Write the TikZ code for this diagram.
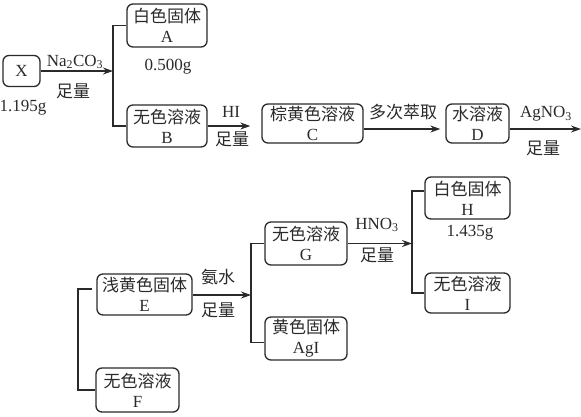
\documentclass[tikz,border=0pt]{standalone}
\usepackage{fontspec}
\setmainfont{Liberation Serif}
\newfontfamily\cjk{Noto Sans CJK SC}
\usetikzlibrary{arrows.meta}
\definecolor{ink}{HTML}{2A2A2A}
\tikzset{
  box/.style={draw=ink, line width=1.3pt, rounded corners=6pt, align=center, inner sep=0pt,
    font=\fontsize{17}{20}\selectfont, text=ink},
  lbl/.style={font=\fontsize{17}{20}\selectfont, text=ink, inner sep=0pt},
  conn/.style={draw=ink, line width=1.3pt},
  arr/.style={conn, -{Stealth[length=10pt,width=7pt]}}
}
\begin{document}
\begin{tikzpicture}[x=1pt,y=-1pt]
\useasboundingbox (0,0) rectangle (581,416);
% boxes
\node[box, minimum width=37, minimum height=31] (X) at (21.5,71) {X};
\node[box, minimum width=80, minimum height=43] (A) at (167,25.5) {{\cjk 白色固体}\\A};
\node[box, minimum width=80, minimum height=42] (B) at (167,126) {{\cjk 无色溶液}\\B};
\node[box, minimum width=101, minimum height=39] (C) at (312.5,123.5) {{\cjk 棕黄色溶液}\\C};
\node[box, minimum width=63, minimum height=39] (D) at (477.5,123.5) {{\cjk 水溶液}\\D};
\node[box, minimum width=95, minimum height=41] (E) at (144.5,294.5) {{\cjk 浅黄色固体}\\E};
\node[box, minimum width=83, minimum height=44] (F) at (137.5,390) {{\cjk 无色溶液}\\F};
\node[box, minimum width=82, minimum height=43] (G) at (306,243.5) {{\cjk 无色溶液}\\G};
\node[box, minimum width=82, minimum height=43] (AgI) at (306,338.5) {{\cjk 黄色固体}\\AgI};
\node[box, minimum width=85, minimum height=42] (H) at (467.5,198) {{\cjk 白色固体}\\H};
\node[box, minimum width=85, minimum height=40] (I) at (467.5,293) {{\cjk 无色溶液}\\I};
% junction coordinates
\coordinate (j1) at (113,71);
\coordinate (j3) at (251,295);
\coordinate (j4) at (412,243.5);
\coordinate (j5) at (78,340);
\coordinate (dend) at (581,129);
% connectors
\draw[arr] (X.east) -- (j1);
\draw[conn] (A.west) -| (j1) |- (B.west);
\draw[arr, shorten >=11pt] (B.east) -- (B.east -| C.west);
\draw[arr, shorten >=5pt] ([yshift=-5.5pt]C.east) -- ([yshift=-5.5pt]C.east -| D.west);
\draw[arr] ([yshift=-5.5pt]D.east) -- (dend);
\draw[arr] (E.east |- j3) -- (j3);
\draw[conn] (G.west) -| (j3) |- ([yshift=-4pt]AgI.west);
\draw[arr] (G.east) -- (j4);
\draw[conn] ([yshift=7pt]H.west) -| (j4) |- (I.west);
\draw[conn] ([xshift=-4pt,yshift=5.5pt]E.west) -| (j5) |- (F.west);
% labels
\node[lbl] (lx) at (23,108) {1.195g};
\node[lbl] (l1) at (75,62) {Na\textsubscript{2}CO\textsubscript{3}};
\node[lbl] (l2) at (73,91) {\cjk 足量};
\node[lbl] (l3) at (168,67) {0.500g};
\node[lbl] (l4) at (231,112) {HI};
\node[lbl] (l5) at (232,139) {\cjk 足量};
\node[lbl] (l6) at (403,112) {\cjk 多次萃取};
\node[lbl] (l7) at (546,114) {AgNO\textsubscript{3}};
\node[lbl] (l8) at (543,148) {\cjk 足量};
\node[lbl] (l9) at (218,277) {\cjk 氨水};
\node[lbl] (l10) at (218,310) {\cjk 足量};
\node[lbl] (l11) at (377,225) {HNO\textsubscript{3}};
\node[lbl] (l12) at (377,255) {\cjk 足量};
\node[lbl] (l13) at (470,233) {1.435g};
\end{tikzpicture}
\end{document}
